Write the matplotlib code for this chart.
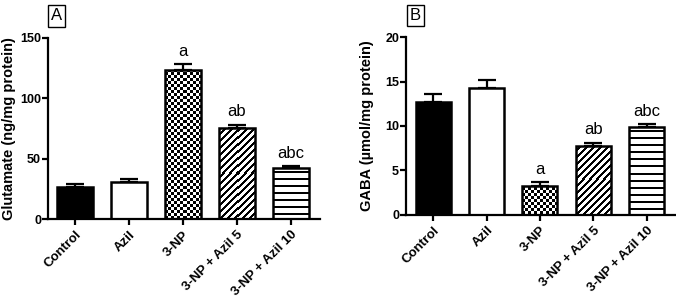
import numpy as np
import matplotlib
matplotlib.use("Agg")
import matplotlib.pyplot as plt

plt.rcParams['font.family'] = ['Liberation Sans', 'DejaVu Sans']

categories = ["Control", "Azil", "3-NP", "3-NP + Azil 5", "3-NP + Azil 10"]
glu_mean = [26.2, 31.0, 123.2, 75.3, 42.1]
glu_err = [2.8, 2.2, 4.7, 2.7, 1.6]
glu_sig = ["", "", "a", "ab", "abc"]
gaba_mean = [12.75, 14.33, 3.26, 7.69, 9.83]
gaba_err = [0.83, 0.86, 0.38, 0.38, 0.37]
gaba_sig = ["", "", "a", "ab", "abc"]

fig = plt.figure(figsize=(6.76, 2.98), dpi=100)
W, H = 676, 298


def make_ax(left, right, top, bottom):
    return fig.add_axes([left / W, 1 - bottom / H, (right - left) / W, (bottom - top) / H])


def pattern_fill(ax, bar, kind):
    x0, y0 = bar.get_x(), bar.get_y()
    w, h = bar.get_width(), bar.get_height()
    p0 = ax.transData.transform((x0, y0))
    p1 = ax.transData.transform((x0 + w, y0 + h))
    nx = max(1, int(round(p1[0] - p0[0])))
    ny = max(1, int(round(p1[1] - p0[1])))
    iy, ix = np.indices((ny, nx))
    if kind == 'checker':
        black = ((ix // 3) + (iy // 3)) % 2 == 0
    elif kind == 'diag':
        black = ((ix - iy) % 7) < 3
    else:
        black = ((iy + 3) % 7) < 2
    img = np.where(black, 0.0, 1.0)
    im = ax.imshow(img, cmap='gray', vmin=0, vmax=1, extent=(x0, x0 + w, y0, y0 + h),
                   interpolation='nearest', aspect='auto', origin='lower', zorder=1.5)
    im.set_clip_path(bar)


def panel(ax, means, errs, sigs, ylim, yticks, ylabel, xlim, width, labelpad):
    x = np.arange(len(categories))
    ax.set_xlim(*xlim)
    ax.set_ylim(*ylim)
    faces = ['black', 'white', 'none', 'none', 'none']
    bars = ax.bar(x, means, width=width, color=faces, edgecolor='black',
                  linewidth=1.8, zorder=2)
    pattern_fill(ax, bars[2], 'checker')
    pattern_fill(ax, bars[3], 'diag')
    pattern_fill(ax, bars[4], 'horiz')
    ax.errorbar(x, means, yerr=[np.zeros(len(errs)), errs], fmt='none', ecolor='black',
                elinewidth=1.6, capsize=6.5, capthick=1.6, zorder=1)
    for xi, m, e, s in zip(x, means, errs, sigs):
        if s:
            ax.annotate(s, (xi, m + e), xytext=(0, 4), textcoords='offset points',
                        ha='center', va='bottom', fontsize=12)
    for sp in ['top', 'right']:
        ax.spines[sp].set_visible(False)
    for sp in ['left', 'bottom']:
        ax.spines[sp].set_linewidth(1.6)
    ax.set_yticks(yticks)
    ax.set_xticks(x)
    ax.set_xticklabels(categories, rotation=45, ha='right', rotation_mode='anchor',
                       fontsize=9.5, fontweight='bold')
    ax.tick_params(axis='both', length=4, width=1.6, direction='out')
    ax.tick_params(axis='y', labelsize=9, pad=1)
    ax.tick_params(axis='x', pad=3)
    for t in ax.get_yticklabels():
        t.set_fontweight('bold')
    ax.set_ylabel(ylabel, fontsize=10.5, fontweight='bold', labelpad=labelpad)


axA = make_ax(48, 320, 37.7, 219)
panel(axA, glu_mean, glu_err, glu_sig, (0, 150), [0, 50, 100, 150],
      "Glutamate (ng/mg protein)", (-0.5, 4.537), 0.667, 3)

axB = make_ax(406, 675, 37.3, 214.5)
panel(axB, gaba_mean, gaba_err, gaba_sig, (0, 20), [0, 5, 10, 15, 20],
      "GABA (µmol/mg protein)", (-0.516, 4.535), 0.657, 8)

box = dict(boxstyle='square,pad=0.2', facecolor='white', edgecolor='black', linewidth=1.0)
fig.text(56.5 / W, 1 - 16 / H, "A", ha='center', va='center', fontsize=12, bbox=box)
fig.text(415.5 / W, 1 - 15.5 / H, "B", ha='center', va='center', fontsize=12, bbox=box)

fig.savefig("out.png", dpi=100)
